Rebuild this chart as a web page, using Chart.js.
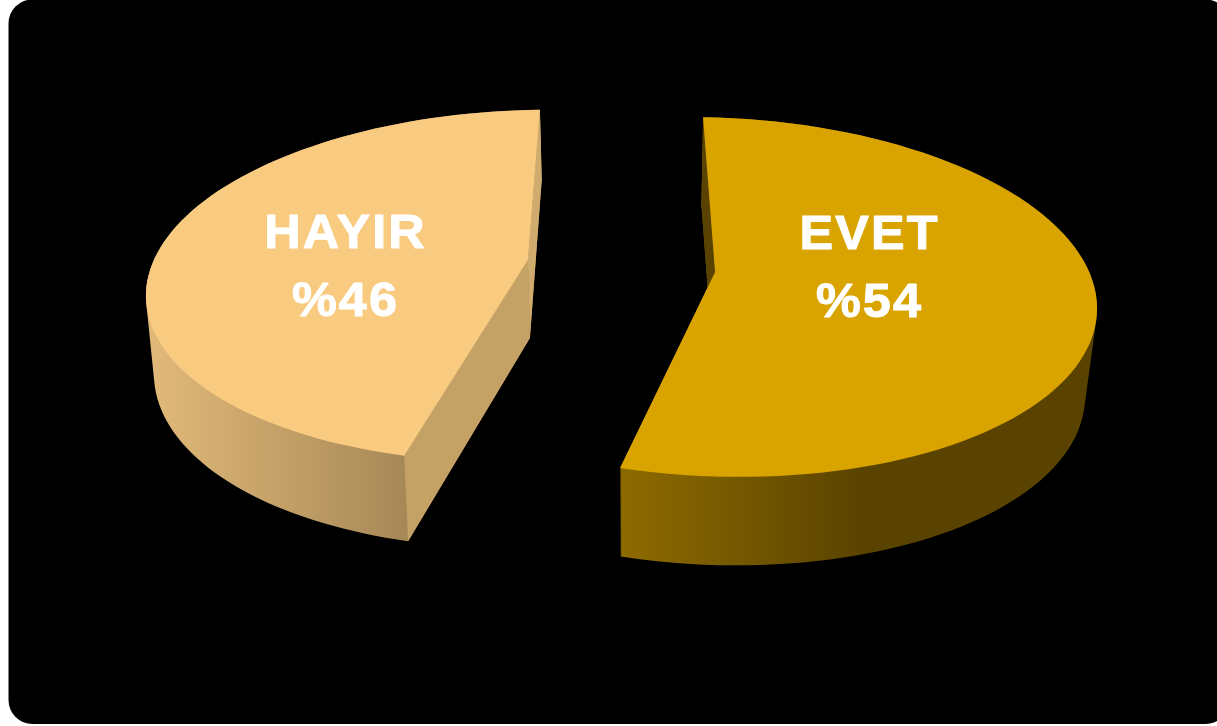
<!DOCTYPE html>
<html lang="tr">
<head>
<meta charset="utf-8">
<title>EVET / HAYIR</title>
<script src="https://cdn.jsdelivr.net/npm/chart.js@4/dist/chart.umd.js"></script>
<style>
    html, body { margin: 0; padding: 0; background: #fff; }
    canvas { display: block; }
</style>
</head>
<body>
<canvas id="pasta" width="1217" height="726"></canvas>
<script>
// data
const kategori = ["EVET", "HAYIR"];
const nilai = [54, 46];
const warnaAtas = ["#DAA400", "#F9CB80"];

// tampilan 3D tiap potongan
const tampilan = [
    { startFix: 0, endFix: 1.8, tilt: 0.03, apexDrop: 25, ry: 179.5,
      bawah: { dx: -2, dy: 88, rx: -10, ry: 180 },
      sisi: [["#8E6B00", 0], ["#5A4300", 0.52], ["#5A4300", 1]], xSisi: [621, 1085],
      dinding: ["#5A4300", null] },
    { startFix: 6.3, endFix: 3.6, tilt: -0.026, apexDrop: 26, ry: 176,
      bawah: { dx: 2, dy: 78, rx: -6, ry: 184 },
      sisi: [["#E0B878", 0], ["#A68857", 1]], xSisi: [155, 408],
      dinding: ["#C4A165", "#CFAC6E"] }
];
const labelPos = [
    { x: 869.5, y1: 236, y2: 304 },
    { x: 345.5, y1: 234.5, y2: 302.5 }
];

function titik(v, sudut) {
    const x = v.cx + v.rx * Math.cos(sudut);
    return [x, v.cy + v.ry * Math.sin(sudut) + v.tilt * (x - v.cx)];
}

function jalurPotongan(ctx, v, a, b) {
    ctx.moveTo(v.cx, v.cy - v.apexDrop);
    const langkah = 90;
    for (let i = 0; i <= langkah; i++) {
        const p = titik(v, a + (b - a) * i / langkah);
        ctx.lineTo(p[0], p[1]);
    }
    ctx.closePath();
}

function dinding(ctx, atas, bawah, sudut, warna) {
    const p1 = titik(atas, sudut);
    const p2 = titik(bawah, sudut);
    ctx.fillStyle = warna;
    ctx.beginPath();
    ctx.moveTo(p1[0], p1[1]);
    ctx.lineTo(atas.cx, atas.cy - atas.apexDrop);
    ctx.lineTo(bawah.cx, bawah.cy - bawah.apexDrop);
    ctx.lineTo(p2[0], p2[1]);
    ctx.closePath();
    ctx.fill();
}

// teks sedikit dilebarkan seperti aslinya
function tulis(ctx, teks, x, y) {
    ctx.save();
    ctx.translate(x, y);
    ctx.scale(1.05, 1);
    ctx.fillText(teks, 0, 0);
    ctx.strokeText(teks, 0, 0);
    ctx.restore();
}

const latarPlugin = {
    id: "latar",
    beforeDraw(chart) {
        const ctx = chart.ctx;
        ctx.save();
        ctx.fillStyle = "#000";
        ctx.beginPath();
        ctx.roundRect(8.5, -0.5, 1221, 724.5, 24);
        ctx.fill();
        ctx.restore();
    }
};

const pasta3dPlugin = {
    id: "pasta3d",
    // arc dari Chart.js dipakai untuk sudut dan radius, gambarnya dibuat miring di sini
    beforeDatasetsDraw(chart) {
        const ctx = chart.ctx;
        const arcs = chart.getDatasetMeta(0).data;
        ctx.save();
        arcs.forEach((arc, i) => {
            const t = tampilan[i];
            const tengah = (arc.startAngle + arc.endAngle) / 2;
            const offset = arc.options.offset;
            const cx = arc.x + Math.cos(tengah) * offset;
            const apexY = arc.y + Math.sin(tengah) * offset * 0.68;
            const a = arc.startAngle + t.startFix * Math.PI / 180;
            const b = arc.endAngle + t.endFix * Math.PI / 180;
            const atas = { cx, cy: apexY + t.apexDrop, rx: arc.outerRadius, ry: t.ry, tilt: t.tilt, apexDrop: t.apexDrop };
            const bawah = {
                cx: cx + t.bawah.dx, cy: atas.cy + t.bawah.dy, rx: arc.outerRadius + t.bawah.rx,
                ry: t.bawah.ry, tilt: t.tilt, apexDrop: t.apexDrop
            };

            // badan: tumpukan irisan dalam satu path supaya tidak ada garis sambungan
            const grad = ctx.createLinearGradient(t.xSisi[0], 0, t.xSisi[1], 0);
            t.sisi.forEach(s => grad.addColorStop(s[1], s[0]));
            ctx.fillStyle = grad;
            ctx.beginPath();
            const lapis = 90;
            for (let k = 0; k <= lapis; k++) {
                const f = k / lapis;
                const v = {
                    cx: atas.cx + (bawah.cx - atas.cx) * f,
                    cy: atas.cy + (bawah.cy - atas.cy) * f,
                    rx: atas.rx + (bawah.rx - atas.rx) * f,
                    ry: atas.ry + (bawah.ry - atas.ry) * f,
                    tilt: t.tilt, apexDrop: t.apexDrop
                };
                jalurPotongan(ctx, v, a, b);
            }
            ctx.fill();

            if (t.dinding[1]) dinding(ctx, atas, bawah, b, t.dinding[1]);
            if (t.dinding[0]) dinding(ctx, atas, bawah, a, t.dinding[0]);

            // muka atas
            ctx.fillStyle = arc.options.backgroundColor;
            ctx.beginPath();
            jalurPotongan(ctx, atas, a, b);
            ctx.fill();
        });
        ctx.restore();
        return false;
    },
    afterDraw(chart) {
        const ctx = chart.ctx;
        ctx.save();
        ctx.fillStyle = "#fff";
        ctx.strokeStyle = "#fff";
        ctx.lineWidth = 1;
        ctx.lineJoin = "round";
        ctx.textAlign = "center";
        ctx.textBaseline = "middle";
        ctx.letterSpacing = "2px";
        ctx.font = "bold 48px 'Liberation Sans', Arial, sans-serif";
        kategori.forEach((nama, i) => {
            const p = labelPos[i];
            tulis(ctx, nama, p.x, p.y1);
            tulis(ctx, "%" + nilai[i], p.x, p.y2);
        });
        ctx.restore();
    }
};

new Chart(document.getElementById("pasta").getContext("2d"), {
    type: "pie",
    data: {
        labels: kategori,
        datasets: [{
            data: nilai,
            backgroundColor: warnaAtas,
            borderWidth: 0,
            offset: 94,
            radius: 382,
            rotation: -1.8
        }]
    },
    options: {
        responsive: false,
        animation: false,
        layout: { padding: { left: 26, bottom: 194 } },
        plugins: {
            legend: { display: false },
            tooltip: { enabled: false }
        }
    },
    plugins: [latarPlugin, pasta3dPlugin]
});
</script>
</body>
</html>
